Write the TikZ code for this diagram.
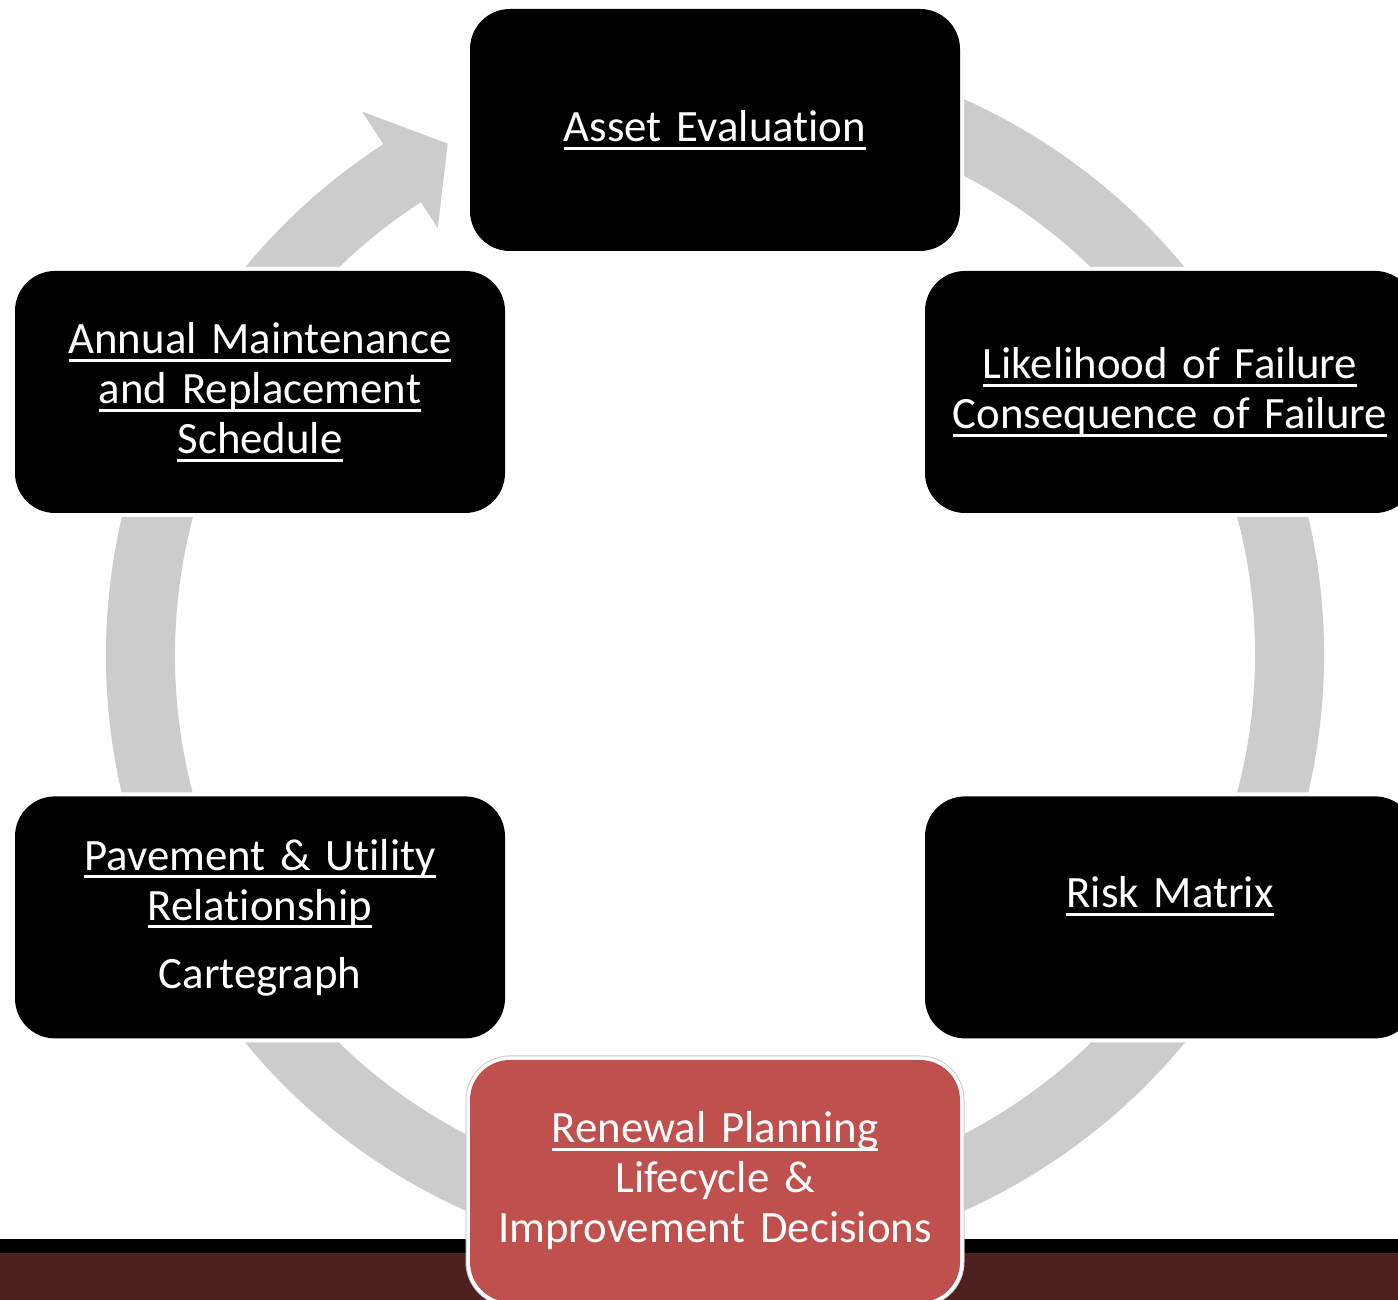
\documentclass[tikz,border=0pt]{standalone}
\usepackage{fontspec}
\setmainfont{Carlito}[Ligatures=NoCommon]
\usetikzlibrary{positioning}

\definecolor{ringgray}{HTML}{CCCCCC}
\definecolor{renewred}{HTML}{C0504D}
\definecolor{barmaroon}{HTML}{4F1F1F}

% underlined line with a rule set just below the baseline
\newlength\ulwd
\newcommand\ulin[1]{\mbox{\settowidth\ulwd{#1}\rlap{\rule[-8pt]{\ulwd}{2.6pt}}#1}}

\begin{document}
\begin{tikzpicture}[x=1pt,y=1pt,
						stage/.style={rounded corners=40pt, minimum width=490pt, minimum height=242pt,
							inner sep=0pt, text width=480pt, align=center, text=white,
							font=\fontsize{44.8}{50}\selectfont},
						blackstage/.style={stage, fill=black, preaction={draw=white, line width=8pt}},
						redstage/.style={stage, fill=renewred,
							preaction={draw=black!20, line width=9pt},
							preaction={draw=white, line width=7pt}}]

						\useasboundingbox (0,0) rectangle (1398,1300);
						\fill[white] (0,0) rectangle (1398,1300);

						%%% Cycle ring & arrow head
						\coordinate (hub) at (715,645);
						\draw[ringgray, line width=69pt] ([shift={(122.8:574.5)}]hub)
							arc[start angle=122.8, end angle=468, radius=574.5];
						\fill[ringgray] ([shift={(123:648)}]hub) -- ([shift={(117.6:577)}]hub)
							-- ([shift={(123:509)}]hub) -- cycle;

						%%% Footer band
						\fill[black] (0,47) rectangle (1398,61);
						\fill[barmaroon] (0,0) rectangle (1398,47);

						%%% Stages
						\node at (715,1170) [blackstage] (asset) {\ulin{Asset Evaluation}};
						\node at (1170,908) [blackstage] (lof)
							{\ulin{Likelihood of Failure}\\\ulin{Consequence of Failure}};
						\node [below=283pt of lof, blackstage] (risk) {\ulin{Risk Matrix}\\\mbox{}};
						\node at (715,119) [redstage] (renew)
							{\ulin{Renewal Planning}\\Lifecycle \&\\Improvement Decisions};
						\node at (260,908) [blackstage] (annual)
							{\ulin{Annual Maintenance}\\\ulin{and Replacement}\\\ulin{Schedule}};
						\node [below=283pt of annual, blackstage] (pave)
							{\ulin{Pavement \& Utility}\\\ulin{Relationship}\\[18pt]Cartegraph};
					\end{tikzpicture}
\end{document}
